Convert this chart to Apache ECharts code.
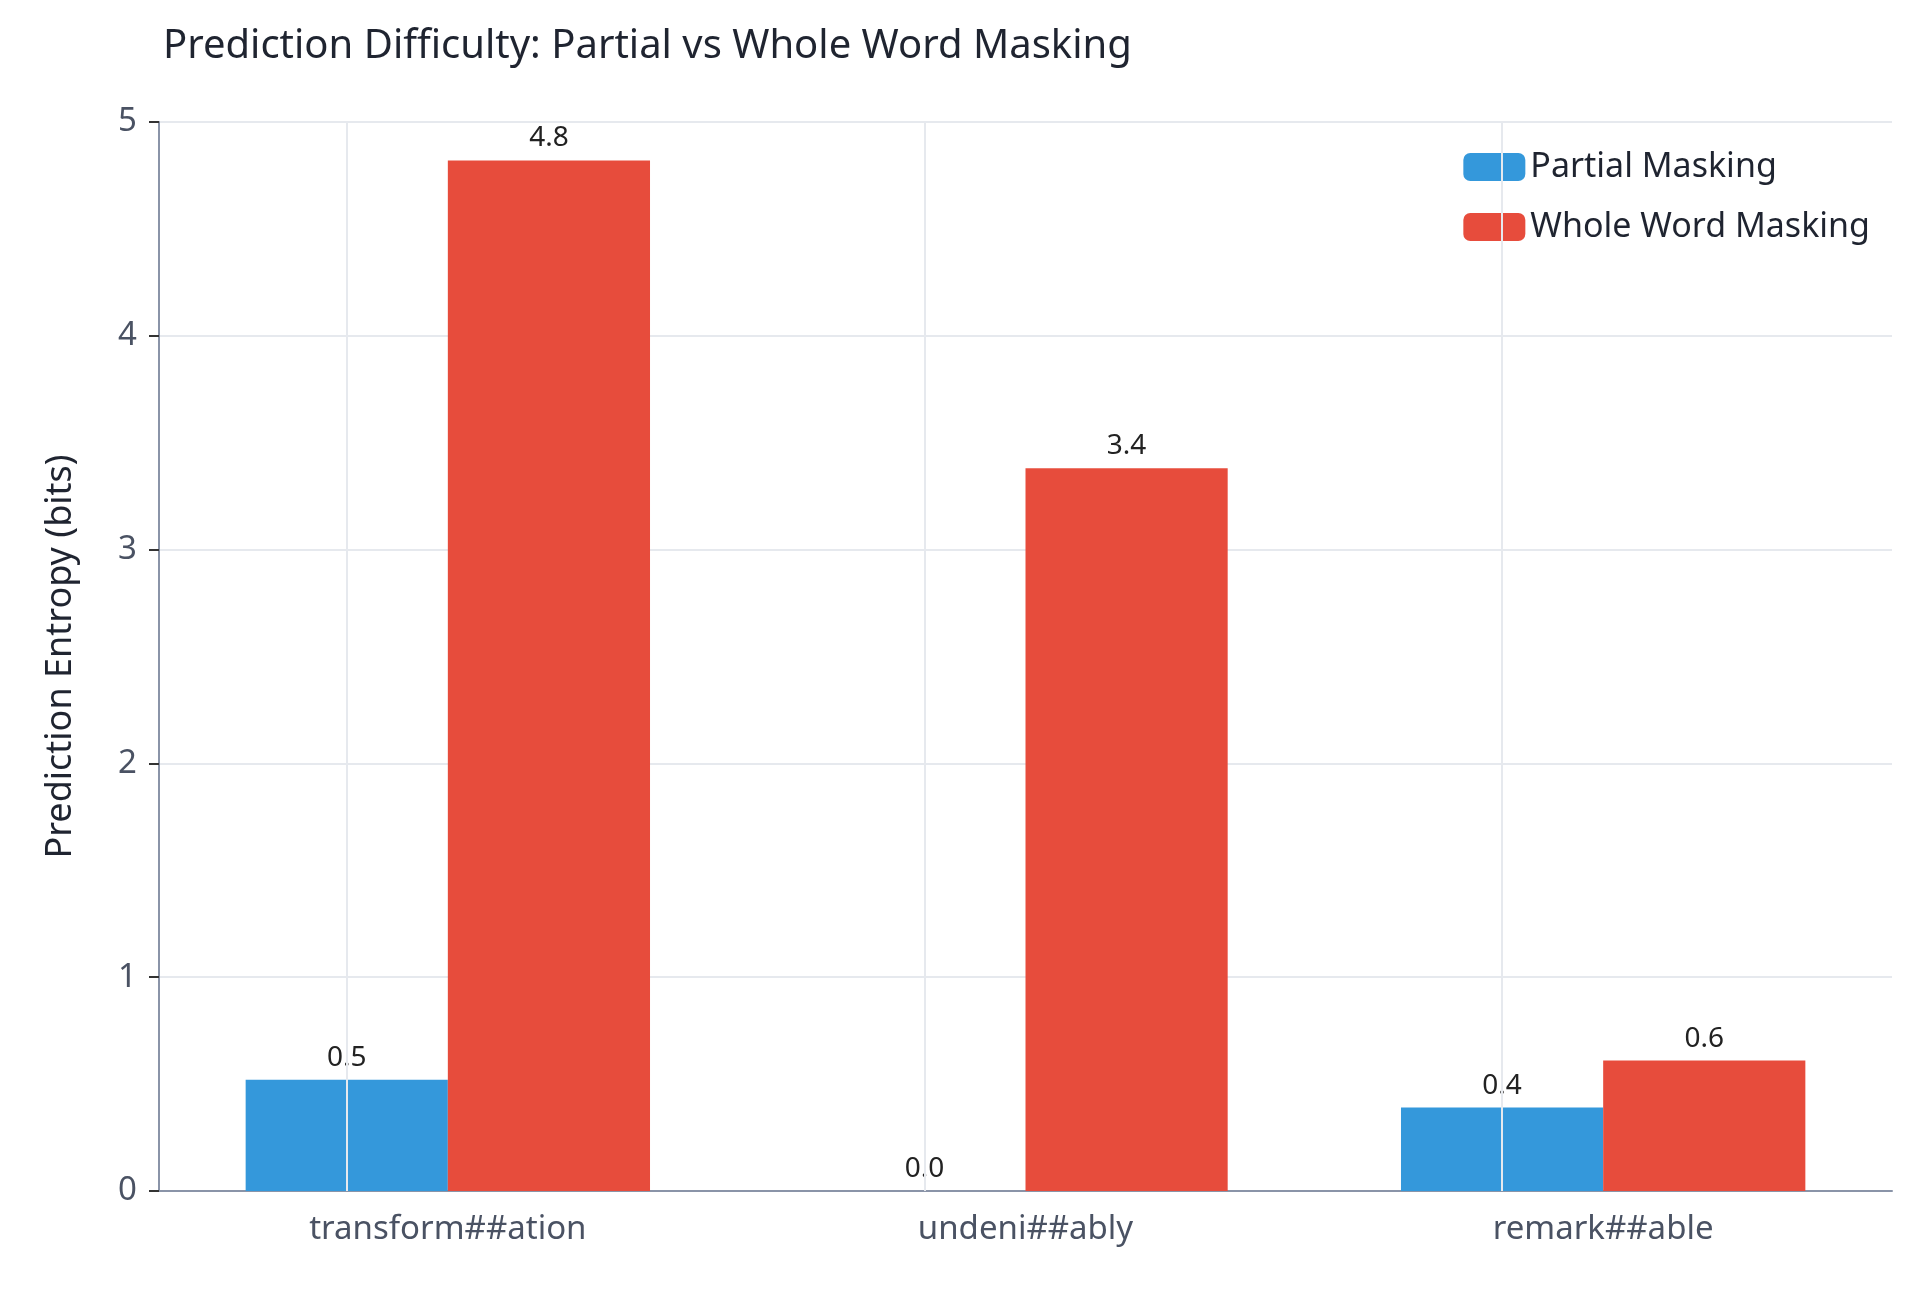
<!DOCTYPE html>
<html><head><meta charset="utf-8">
<script src="https://cdn.jsdelivr.net/npm/echarts@6/dist/echarts.min.js"></script>
<style>html,body{margin:0;padding:0;background:#fff}#c{width:1920px;height:1292px}</style>
</head><body><div id="c"></div>
<script>
const categories = ['transform##ation', 'undeni##ably', 'remark##able'];
const partial = [0.52, 0.0, 0.39];
const whole = [4.82, 3.38, 0.61];
const yTicks = [0, 1, 2, 3, 4, 5];

const chart = echarts.init(document.getElementById('c'));
const font = '"Noto Sans", sans-serif';
const lbl = {show: true, position: 'top', formatter: p => p.value.toFixed(1), fontSize: 28, color: '#222', fontFamily: font, distance: 8};
chart.setOption({
  textStyle: {fontFamily: font},
  title: {text: 'Prediction Difficulty: Partial vs Whole Word Masking', left: 158, top: 22,
    textStyle: {fontSize: 40, fontWeight: 'normal', color: '#1f2430', fontFamily: font}},
  legend: {right: 40, top: 140, orient: 'vertical', itemWidth: 62, itemHeight: 28, itemGap: 26,
    backgroundColor: '#fff', padding: [10, 10, 10, 10],
    textStyle: {fontSize: 34, color: '#1f2430', fontFamily: font}},
  grid: {left: 159, right: 28, top: 122, bottom: 101},
  xAxis: {type: 'category', data: categories,
    axisLine: {lineStyle: {color: '#8a94a8', width: 2}},
    axisTick: {alignWithLabel: true, length: 10, lineStyle: {color: '#333', width: 2}},
    axisLabel: {fontSize: 33, color: '#4a5263', margin: 22, fontFamily: font}},
  yAxis: {type: 'value', min: 0, max: 5, interval: 1,
    name: 'Prediction Entropy (bits)', nameLocation: 'middle', nameGap: 80,
    nameTextStyle: {fontSize: 36, color: '#1f2430', fontFamily: font},
    axisLine: {show: true, lineStyle: {color: '#8a94a8', width: 2}},
    axisTick: {show: true, length: 10, lineStyle: {color: '#333', width: 2}},
    axisLabel: {fontSize: 33, color: '#4a5263', margin: 22, fontFamily: font,
      formatter: v => yTicks.includes(v) ? String(v) : ''},
    splitLine: {lineStyle: {color: '#e6e9ee', width: 2}}},
  series: [
    {name: 'Partial Masking', type: 'bar', data: partial, barGap: '0%', barCategoryGap: '30%',
     itemStyle: {color: '#3498db'}, label: lbl,
     markLine: {silent: true, symbol: 'none', label: {show: false},
       lineStyle: {color: '#e6e9ee', width: 2, type: 'solid'},
       data: categories.map(c => ({xAxis: c}))}, z: 2},
    {name: 'Whole Word Masking', type: 'bar', data: whole,
     itemStyle: {color: '#e74c3c'}, label: lbl, z: 2}
  ]
});
</script></body></html>
